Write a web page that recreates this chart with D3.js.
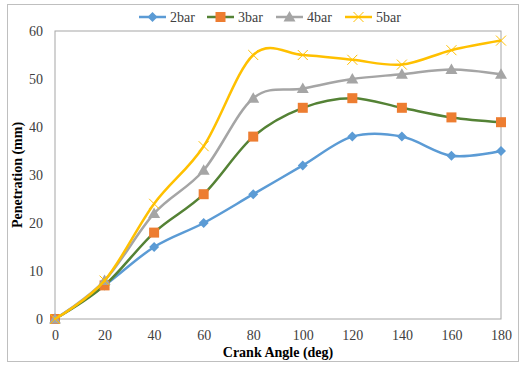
<!DOCTYPE html>
<html>
<head>
<meta charset="utf-8">
<script src="https://cdn.jsdelivr.net/npm/d3@7"></script>
<style>
  body { margin: 0; background: #fff; }
  svg text { font-family: "Liberation Serif", "Times New Roman", "DejaVu Serif", serif !important; }
</style>
</head>
<body>
<div id="chart"></div>
<script>
const crankAngles = [0, 20, 40, 60, 80, 100, 120, 140, 160, 180];
const bar2 = [0, 7, 15, 20, 26, 32, 38, 38, 34, 35];
const bar3 = [0, 7, 18, 26, 38, 44, 46, 44, 42, 41];
const bar4 = [0, 8, 22, 31, 46, 48, 50, 51, 52, 51];
const bar5 = [0, 8, 24, 36, 55, 55, 54, 53, 56, 58];
const seriesNames = ['2bar', '3bar', '4bar', '5bar'];
const xTicks = [0, 20, 40, 60, 80, 100, 120, 140, 160, 180];
const yTicks = [0, 10, 20, 30, 40, 50, 60];

const width = 522, height = 366;
const margin = { top: 31, right: 21, bottom: 47, left: 55 };

const series = [
  { name: seriesNames[0], values: bar2, line: '#5b9bd5', fill: '#5b9bd5', shape: 'diamond' },
  { name: seriesNames[1], values: bar3, line: '#548235', fill: '#ed7d31', shape: 'square' },
  { name: seriesNames[2], values: bar4, line: '#a5a5a5', fill: '#a5a5a5', shape: 'triangle' },
  { name: seriesNames[3], values: bar5, line: '#ffc000', fill: '#ffc000', shape: 'cross' }
];

const svg = d3.select('#chart').append('svg')
  .attr('width', width)
  .attr('height', height);

// outer chart frame
svg.append('rect')
  .attr('x', 7.5).attr('y', 4.5)
  .attr('width', 511).attr('height', 357)
  .attr('fill', '#fff')
  .attr('stroke', '#bfbfbf');

const x = d3.scaleLinear().domain([0, 180]).range([margin.left, width - margin.right]);
const y = d3.scaleLinear().domain([0, 60]).range([height - margin.bottom, margin.top]);

// plot area frame
svg.append('rect')
  .attr('x', x(0)).attr('y', y(60))
  .attr('width', x(180) - x(0)).attr('height', y(0) - y(60))
  .attr('fill', 'none')
  .attr('stroke', '#a6a6a6')
  .attr('stroke-width', 1);

const xAxis = svg.append('g')
  .attr('transform', `translate(0,${y(0)})`)
  .call(d3.axisBottom(x).tickValues(xTicks).tickSize(0).tickPadding(11));
const yAxis = svg.append('g')
  .attr('transform', `translate(${x(0)},0)`)
  .call(d3.axisLeft(y).tickValues(yTicks).tickSize(0).tickPadding(12));

[xAxis, yAxis].forEach(g => {
  g.select('.domain').remove();
  g.selectAll('text')
    .attr('font-size', 14)
    .attr('fill', '#404040');
});

svg.append('text')
  .attr('x', (x(0) + x(180)) / 2)
  .attr('y', 357)
  .attr('text-anchor', 'middle')
  .attr('font-size', 14)
  .attr('font-weight', 'bold')
  .text('Crank Angle (deg)');

svg.append('text')
  .attr('transform', `translate(22,${(y(0) + y(60)) / 2}) rotate(-90)`)
  .attr('text-anchor', 'middle')
  .attr('font-size', 14)
  .attr('font-weight', 'bold')
  .text('Penetration (mm)');

const line = d3.line()
  .x((d, i) => x(crankAngles[i]))
  .y(d => y(d))
  .curve(d3.curveCardinal.tension(0));

function drawMarker(g, shape, cx, cy, s) {
  if (shape === 'diamond') {
    g.append('path')
      .attr('d', `M${cx},${cy - 5}L${cx + 5},${cy}L${cx},${cy + 5}L${cx - 5},${cy}Z`)
      .attr('fill', s.fill);
  } else if (shape === 'square') {
    g.append('rect')
      .attr('x', cx - 5).attr('y', cy - 5)
      .attr('width', 10).attr('height', 10)
      .attr('fill', s.fill);
  } else if (shape === 'triangle') {
    g.append('path')
      .attr('d', `M${cx},${cy - 6}L${cx + 6},${cy + 4.5}L${cx - 6},${cy + 4.5}Z`)
      .attr('fill', s.fill);
  } else {
    g.append('path')
      .attr('d', `M${cx - 5},${cy - 5}L${cx + 5},${cy + 5}M${cx - 5},${cy + 5}L${cx + 5},${cy - 5}`)
      .attr('stroke', s.fill)
      .attr('stroke-width', 1);
  }
}

series.forEach(s => {
  const g = svg.append('g');
  g.append('path')
    .datum(s.values)
    .attr('d', line)
    .attr('fill', 'none')
    .attr('stroke', s.line)
    .attr('stroke-width', 2.5);
  s.values.forEach((v, i) => drawMarker(g, s.shape, x(crankAngles[i]), y(v), s));
});

// legend
const legendX = [139, 207, 276, 345];
const legend = svg.append('g');
series.forEach((s, i) => {
  const lx = legendX[i], ly = 17;
  legend.append('line')
    .attr('x1', lx).attr('x2', lx + 27)
    .attr('y1', ly).attr('y2', ly)
    .attr('stroke', s.line)
    .attr('stroke-width', 2.5);
  drawMarker(legend, s.shape, lx + 13.5, ly, s);
  legend.append('text')
    .attr('x', lx + 31)
    .attr('y', ly + 4.5)
    .attr('font-size', 14)
    .attr('fill', '#404040')
    .text(s.name);
});
</script>
</body>
</html>
